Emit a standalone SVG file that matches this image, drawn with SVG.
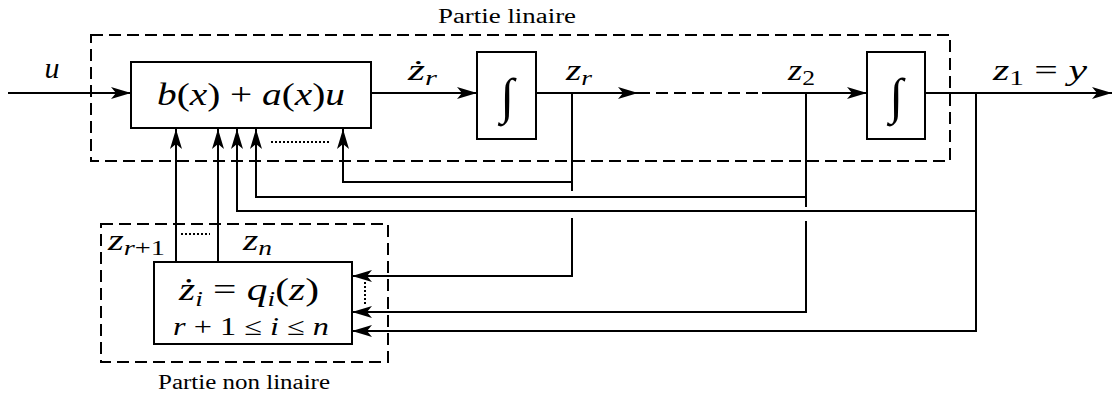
<svg xmlns="http://www.w3.org/2000/svg" width="1113" height="399" viewBox="0 0 1113 399">
<style>
.ln{fill:none;stroke:#000;stroke-width:2}
.ds{fill:none;stroke:#000;stroke-width:2;stroke-dasharray:12 6}
.dt{fill:none;stroke:#000;stroke-width:2;stroke-dasharray:2 2}
.bx{fill:#fff;stroke:#000;stroke-width:2}
.m{font-style:italic;fill:#000}
.r{font-style:normal}
.t{fill:#000;font-size:20px}
</style>
<defs>
<marker id="ar" viewBox="0 0 20 12" refX="20" refY="6" markerWidth="20" markerHeight="12" markerUnits="userSpaceOnUse" orient="auto">
<path d="M0,0 L20,6 L0,12 L5,6 Z" fill="#000"/>
</marker>
</defs>
<g font-family="Liberation Serif, Times New Roman, serif">
<g id="linear-part">
<rect x="91" y="35" width="859" height="126" class="ds"/>
<text x="438" y="23" class="t" textLength="138" lengthAdjust="spacingAndGlyphs">Partie  linaire</text>
</g>
<g id="nonlinear-part">
<rect x="101" y="224" width="287" height="138" class="ds"/>
<text x="158" y="389" class="t" textLength="172" lengthAdjust="spacingAndGlyphs">Partie non linaire</text>
</g>
<g id="connectors">
<path d="M8,93 H131" class="ln" marker-end="url(#ar)"/>
<path d="M371,93 H477" class="ln" marker-end="url(#ar)"/>
<path d="M536,93 H638" class="ln" marker-end="url(#ar)"/>
<path d="M638,93 H762" class="ds"/>
<path d="M762,93 H867" class="ln" marker-end="url(#ar)"/>
<path d="M925,93 H1112" class="ln" marker-end="url(#ar)"/>
<path d="M572,93 V191" class="ln"/>
<path d="M572,182 H343 V129" class="ln" marker-end="url(#ar)"/>
<path d="M806,93 V207" class="ln"/>
<path d="M806,197 H256 V129" class="ln" marker-end="url(#ar)"/>
<path d="M976,211 H237 V129" class="ln" marker-end="url(#ar)"/>
<path d="M976,93 V331 H352" class="ln" marker-end="url(#ar)"/>
<path d="M572,218 V276 H352" class="ln" marker-end="url(#ar)"/>
<path d="M806,221 V312 H352" class="ln" marker-end="url(#ar)"/>
<path d="M176,262 V129" class="ln" marker-end="url(#ar)"/>
<path d="M218,262 V129" class="ln" marker-end="url(#ar)"/>
<path d="M271,142 H329" class="dt"/>
<path d="M181,234 H210" class="dt"/>
<path d="M365,282 V306" class="dt"/>
</g>
<g id="main-block">
<rect x="131" y="62" width="240" height="66" class="bx"/>
<text x="157" y="105" class="m" font-size="32" textLength="188" lengthAdjust="spacingAndGlyphs">b<tspan class="r">(</tspan>x<tspan class="r">) + </tspan>a<tspan class="r">(</tspan>x<tspan class="r">)</tspan>u</text>
</g>
<g id="integrator-1">
<rect x="477" y="52" width="59" height="87" class="bx"/>
<text x="507" y="113" class="m" font-size="50" text-anchor="middle">∫</text>
</g>
<g id="integrator-2">
<rect x="867" y="52" width="58" height="87" class="bx"/>
<text x="896" y="113" class="m" font-size="50" text-anchor="middle">∫</text>
</g>
<g id="nonlinear-block">
<rect x="154" y="262" width="198" height="82" class="bx"/>
<text x="179" y="300" class="m" font-size="32" textLength="140" lengthAdjust="spacingAndGlyphs">ż<tspan font-size="21" dy="6">i</tspan><tspan class="r" dy="-6"> = </tspan>q<tspan font-size="21" dy="6">i</tspan><tspan class="r" dy="-6">(</tspan>z<tspan class="r">)</tspan></text>
<text x="173" y="335" class="m" font-size="25" textLength="156" lengthAdjust="spacingAndGlyphs">r<tspan class="r"> + 1 ≤ </tspan>i<tspan class="r"> ≤ </tspan>n</text>
</g>
<g id="labels">
<text x="52" y="78" class="m" font-size="30" text-anchor="middle">u</text>
<text x="408" y="80" class="m" font-size="30" textLength="29" lengthAdjust="spacingAndGlyphs">ż<tspan font-size="21" dy="5">r</tspan></text>
<text x="566" y="80" class="m" font-size="30" textLength="26" lengthAdjust="spacingAndGlyphs">z<tspan font-size="21" dy="5">r</tspan></text>
<text x="788" y="80" class="m" font-size="30" textLength="27" lengthAdjust="spacingAndGlyphs">z<tspan class="r" font-size="21" dy="5">2</tspan></text>
<text x="993" y="80" class="m" font-size="30" textLength="94" lengthAdjust="spacingAndGlyphs">z<tspan class="r" font-size="21" dy="5">1</tspan><tspan class="r" dy="-5"> = </tspan>y</text>
<text x="108" y="250" class="m" font-size="30" textLength="57" lengthAdjust="spacingAndGlyphs">z<tspan font-size="21" dy="5">r<tspan class="r">+1</tspan></tspan></text>
<text x="243" y="250" class="m" font-size="30" textLength="29" lengthAdjust="spacingAndGlyphs">z<tspan font-size="21" dy="5">n</tspan></text>
</g>
</g>
</svg>
